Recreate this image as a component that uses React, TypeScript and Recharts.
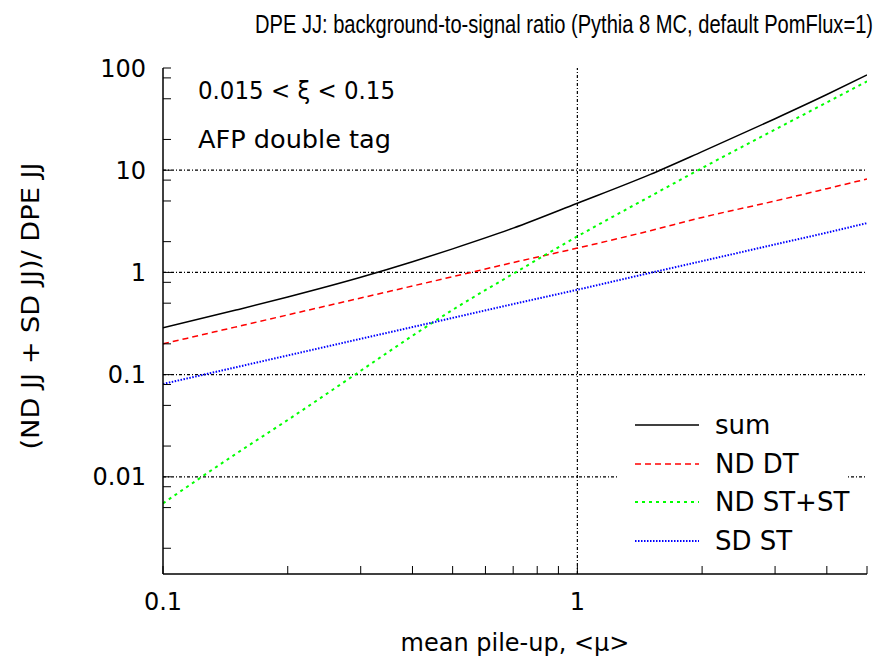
import React from 'react';
import { LineChart, Line, XAxis, YAxis, ReferenceLine, Legend } from 'recharts';

// mean pile-up <mu> sample points
const mu = [0.1, 0.15, 0.2, 0.3, 0.4, 0.5, 0.7, 1, 1.5, 2, 3, 4, 5];

// background-to-signal ratios
const sumRatio = [0.287, 0.428, 0.574, 0.895, 1.27, 1.7, 2.71, 4.75, 9.1, 15.2, 31.9, 55, 85.5];
const ndDt = [0.2, 0.293, 0.384, 0.562, 0.736, 0.908, 1.25, 1.73, 2.56, 3.45, 5.0, 6.6, 8.2];
const ndStSt = [0.0055, 0.0168, 0.036, 0.109, 0.24, 0.43, 0.97, 2.25, 5.56, 10.5, 25, 46, 74];
const sdSt = [0.081, 0.118, 0.154, 0.224, 0.292, 0.359, 0.49, 0.677, 0.99, 1.29, 1.88, 2.45, 3.04];

const xTicks = [0.1, 0.2, 0.3, 0.4, 0.5, 0.6, 0.7, 0.8, 0.9, 1, 2, 3, 4, 5];
const xTickLabels = [0.1, 1];
const yTicks = [0.002, 0.005, 0.008, 0.01, 0.02, 0.05, 0.08, 0.1, 0.2, 0.5, 0.8, 1, 2, 5, 8, 10, 20, 50, 80, 100];
const yTickLabels = [0.01, 0.1, 1, 10, 100];
const gridY = [0.01, 0.1, 1, 10];
const gridX = [1];

const chartData = mu.map((m, i) => ({
  mu: m,
  sum: sumRatio[i],
  ndDt: ndDt[i],
  ndStSt: ndStSt[i],
  sdSt: sdSt[i],
}));

const series = [
  { key: 'sum', name: 'sum', color: '#000000', width: 1.5, dash: undefined },
  { key: 'ndDt', name: 'ND DT', color: '#ff0000', width: 1.5, dash: '6 4' },
  { key: 'ndStSt', name: 'ND ST+ST', color: '#00ff00', width: 2, dash: '3 4' },
  { key: 'sdSt', name: 'SD ST', color: '#0000ff', width: 2, dash: '1.5 1.5' },
];

const FONT = '"DejaVu Sans", Verdana, sans-serif';
const tickStyle = { fontSize: 24, fill: '#000', fontFamily: FONT };

function PlotLegend() {
  return (
    <div style={{ background: '#fff', width: 231, height: 160, position: 'relative' }}>
      {series.map((s, i) => (
        <div
          key={s.key}
          style={{
            position: 'absolute',
            left: 18,
            top: 8 + i * 38.5,
            height: 34,
            display: 'flex',
            alignItems: 'center',
          }}
        >
          <svg width={64} height={10}>
            <line x1={0} y1={5} x2={64} y2={5} stroke={s.color} strokeWidth={s.width} strokeDasharray={s.dash} />
          </svg>
          <span style={{ marginLeft: 16, fontFamily: FONT, fontSize: 26, color: '#000', whiteSpace: 'nowrap' }}>
            {s.name}
          </span>
        </div>
      ))}
    </div>
  );
}

export default function App() {
  return (
    <div style={{ position: 'absolute', left: 0, top: 0, width: 887, height: 659, background: '#fff' }}>
      <LineChart width={887} height={659} data={chartData} margin={{ top: 68, right: 20, bottom: 0, left: 0 }}>
        <XAxis
          dataKey="mu"
          type="number"
          scale="log"
          domain={[0.1, 5]}
          allowDataOverflow
          ticks={xTicks}
          interval={0}
          height={85}
          tickSize={-8}
          tickMargin={27}
          tick={tickStyle}
          tickFormatter={(v) => (xTickLabels.includes(v) ? String(v) : '')}
          axisLine={{ stroke: '#000', strokeWidth: 1.5 }}
          tickLine={{ stroke: '#000' }}
        />
        <XAxis
          xAxisId="top"
          orientation="top"
          type="number"
          scale="log"
          domain={[0.1, 5]}
          allowDataOverflow
          ticks={xTicks}
          interval={0}
          height={0}
          tickSize={-8}
          tickFormatter={() => ''}
          axisLine={{ stroke: '#000', strokeWidth: 1.5 }}
          tickLine={{ stroke: '#000' }}
        />
        <YAxis
          type="number"
          scale="log"
          domain={[0.00112, 100]}
          allowDataOverflow
          ticks={yTicks}
          interval={0}
          width={163}
          tickSize={-8}
          tickMargin={25}
          tick={tickStyle}
          tickFormatter={(v) => (yTickLabels.includes(v) ? String(v) : '')}
          axisLine={{ stroke: '#000', strokeWidth: 1.5 }}
          tickLine={{ stroke: '#000' }}
        />
        <YAxis
          yAxisId="right"
          orientation="right"
          type="number"
          scale="log"
          domain={[0.00112, 100]}
          allowDataOverflow
          ticks={yTicks}
          interval={0}
          width={0}
          tickSize={-8}
          tickFormatter={() => ''}
          axisLine={{ stroke: '#000', strokeWidth: 1.5 }}
          tickLine={{ stroke: '#000' }}
        />
        {gridY.map((v) => (
          <ReferenceLine key={'gy' + v} y={v} stroke="#000" strokeWidth={1.2} strokeDasharray="3 2 1 2" />
        ))}
        {gridX.map((v) => (
          <ReferenceLine key={'gx' + v} x={v} stroke="#000" strokeWidth={1.2} strokeDasharray="3 2 1 2" />
        ))}
        {series.map((s) => (
          <Line
            key={s.key}
            dataKey={s.key}
            name={s.name}
            type="monotone"
            stroke={s.color}
            strokeWidth={s.width}
            strokeDasharray={s.dash}
            dot={false}
            isAnimationActive={false}
          />
        ))}
        <Legend
          layout="vertical"
          align="center"
          verticalAlign="middle"
          content={() => <PlotLegend />}
          wrapperStyle={{ left: 617, top: 400, width: 231, height: 160 }}
        />
      </LineChart>
      <svg
        width={887}
        height={659}
        style={{ position: 'absolute', left: 0, top: 0, pointerEvents: 'none' }}
      >
        {/* narrow title: squeeze horizontally */}
        <text
          transform="translate(564,33) scale(0.75,1)"
          textAnchor="middle"
          fontFamily='"Liberation Sans", Arial, sans-serif'
          fontSize={25}
          textLength={824}
          lengthAdjust="spacingAndGlyphs"
          fill="#000"
        >
          DPE JJ: background-to-signal ratio (Pythia 8 MC, default PomFlux=1)
        </text>
        <text
          transform="translate(39,306) rotate(-90)"
          textAnchor="middle"
          fontFamily={FONT}
          fontSize={25}
          textLength={287}
          lengthAdjust="spacingAndGlyphs"
          fill="#000"
        >
          (ND JJ + SD JJ)/ DPE JJ
        </text>
        <text x={515} y={651} textAnchor="middle" fontFamily={FONT} fontSize={24} fill="#000">
          mean pile-up, &lt;μ&gt;
        </text>
        <text
          x={198}
          y={99}
          fontFamily={FONT}
          fontSize={24}
          textLength={197}
          lengthAdjust="spacingAndGlyphs"
          fill="#000"
        >
          0.015 &lt; ξ &lt; 0.15
        </text>
        <text
          x={198}
          y={148}
          fontFamily={FONT}
          fontSize={25}
          textLength={193}
          lengthAdjust="spacingAndGlyphs"
          fill="#000"
        >
          AFP double tag
        </text>
      </svg>
    </div>
  );
}
